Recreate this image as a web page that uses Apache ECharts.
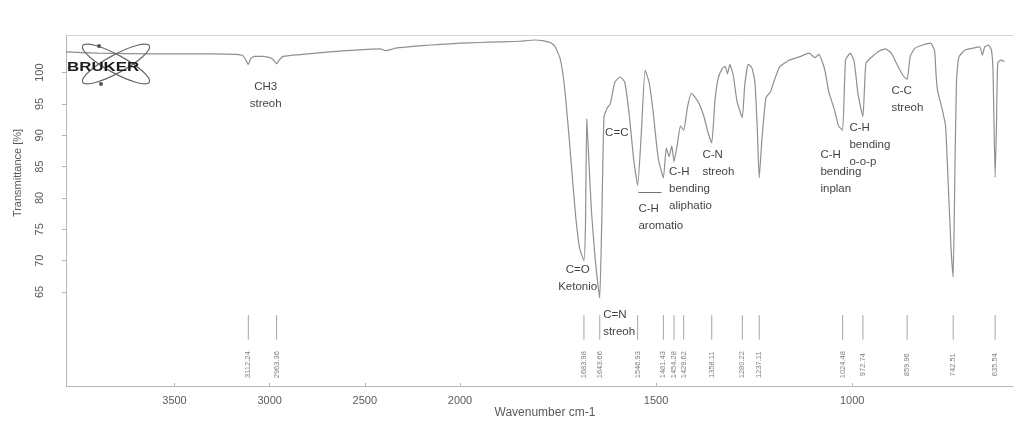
<!DOCTYPE html>
<html>
<head>
<meta charset="utf-8">
<script src="https://cdn.jsdelivr.net/npm/echarts@6/dist/echarts.min.js"></script>
<style>
  html, body { margin: 0; padding: 0; background: #ffffff; }
  #chart { width: 1020px; height: 421px; }
</style>
</head>
<body>
<div id="chart"></div>
<script>
// IR spectrum, 4070–2000 cm-1 (compressed scale)
const highWavenumber = [4070, 3900, 3600, 3300, 3180, 3140, 3125, 3112.24, 3100, 3080, 3030, 2990, 2975, 2963.36, 2950, 2930, 2800, 2600, 2420, 2390, 2360, 2340, 2200, 2100, 2000];
const highTransmittance = [103.3, 103.1, 103.0, 103.0, 102.9, 102.7, 102.0, 101.3, 102.2, 102.6, 102.6, 102.3, 101.8, 101.4, 102.0, 102.6, 103.0, 103.5, 103.8, 103.5, 103.7, 103.9, 104.3, 104.5, 104.7];

// IR spectrum, 2000–590 cm-1 (expanded scale)
const lowWavenumber = [
  2000, 1950, 1900, 1850, 1810, 1790, 1770, 1758, 1745, 1735, 1725, 1715, 1705, 1695,
  1683.98, 1680, 1677, 1673, 1665, 1655, 1648, 1643.66, 1638, 1633, 1625, 1617, 1605,
  1592, 1580, 1568, 1557, 1546.93, 1538, 1528, 1518, 1508, 1495, 1481.43, 1474, 1467,
  1460, 1454.28, 1446, 1438, 1429.62, 1420, 1410, 1400, 1390, 1378, 1368, 1358.11,
  1350, 1342, 1332, 1324, 1318, 1312, 1303, 1294, 1280.22, 1274, 1265, 1256, 1248,
  1242, 1237.11, 1230, 1220, 1208, 1200, 1185, 1160, 1135, 1110, 1095, 1085, 1070,
  1060, 1045, 1035, 1024.48, 1017, 1005, 995, 985, 972.74, 965, 950, 930, 915, 900,
  885, 870, 859.96, 852, 840, 820, 800, 790, 786, 782, 776, 770, 762, 755, 748,
  742.51, 738, 734, 728, 712, 692, 675, 668, 662, 652, 645, 641, 635.54, 632, 629,
  622, 612
];
const lowTransmittance = [
  104.7, 104.8, 104.9, 105.0, 105.2, 105.1, 104.8, 104.2, 102.3, 98.5, 92.0, 84.5, 77.0, 72.0,
  70.0, 76.0, 92.6, 88.0, 78.0, 70.0, 66.0, 64.0, 78.0, 92.8, 94.3, 95.0, 98.5,
  99.3, 98.5, 93.0, 86.0, 82.0, 90.0, 100.4, 98.5, 94.0, 86.5, 83.2, 88.0, 86.6,
  88.3, 85.8, 88.5, 91.5, 90.8, 94.5, 96.7, 96.0, 95.0, 93.0, 90.5, 88.8,
  95.5, 99.0, 100.6, 101.0, 99.8, 101.3, 99.5, 95.5, 92.8, 98.0, 101.3, 100.8, 98.5,
  91.0, 83.2, 89.5, 96.0, 97.0, 98.5, 100.9, 102.0, 102.5, 103.1, 102.4, 102.9, 100.5,
  97.0, 94.0, 91.5, 90.8, 102.0, 103.1, 101.8, 96.5, 93.0, 101.5, 102.5, 103.5, 103.8, 103.1,
  101.2, 99.5, 98.9, 102.6, 103.9, 104.4, 104.7, 103.5, 99.5, 97.0, 95.5, 94.0, 91.5, 82.0, 72.0,
  67.4, 85.0, 98.8, 102.5, 103.6, 103.9, 104.1, 102.8, 104.1, 104.4, 103.6, 100.4, 83.3, 92.0, 101.5,
  102.0, 101.8
];

// Peak-picking results
const highPeaks = [3112.24, 2963.36];
const lowPeaks = [1683.98, 1643.66, 1546.93, 1481.43, 1454.28, 1429.62, 1358.11, 1280.22, 1237.11, 1024.48, 972.74, 859.96, 742.51, 635.54];

// Axis tick values
const highTicks = [2500, 3000, 3500];
const lowTicks = [1000, 1500, 2000];
const transmittanceTicks = [65, 70, 75, 80, 85, 90, 95, 100];

// Band assignments: text, anchored at [wavenumber, transmittance]
const highBands = [
  { text: 'CH3\nstreoh', at: [3021, 96.4], align: 'center' }
];
const lowBands = [
  { text: 'C=O\nKetonio', at: [1700, 67.2], align: 'center' },
  { text: 'C=N\nstreoh', at: [1635, 60.0], align: 'left' },
  { text: 'C=C', at: [1630, 90.4], align: 'left' },
  { text: '——\nC-H\naromatio', at: [1545, 78.3], align: 'left' },
  { text: 'C-H\nbending\naliphatio', at: [1467, 81.4], align: 'left' },
  { text: 'C-N\nstreoh', at: [1382, 85.6], align: 'left' },
  { text: 'C-H\nbending\ninplan', at: [1081, 84.1], align: 'left' },
  { text: 'C-H\nbending\no-o-p', at: [1007, 88.4], align: 'left' },
  { text: 'C-C\nstreoh', at: [900, 95.8], align: 'left' }
];

// Vertical placement of the peak markers (transmittance units)
const MARK_TOP = 61.3;
const MARK_BOTTOM = 57.4;
const MARK_TEXT = 53.4;

const SPECTRUM = '#8f8f8f';
const AXIS = '#b5b5b5';
const TICK_TEXT = '#5a5a5a';
const FONT = 'Liberation Sans, Arial, sans-serif';

function zip(xs, ys) { return xs.map((x, i) => [x, ys[i]]); }
const plain = v => String(v);

function peakMarker(params, api) {
  const v = api.value(0);
  const a = api.coord([v, MARK_TOP]);
  const b = api.coord([v, MARK_BOTTOM]);
  const c = api.coord([v, MARK_TEXT]);
  return {
    type: 'group',
    children: [
      { type: 'line', shape: { x1: a[0], y1: a[1], x2: b[0], y2: b[1] },
        style: { stroke: '#a3a3a3', lineWidth: 1 } },
      { type: 'text', x: c[0], y: c[1], rotation: Math.PI / 2,
        style: { text: v.toFixed(2), fill: '#7e7e7e', fontSize: 7.5, fontFamily: FONT,
                 align: 'center', verticalAlign: 'middle' } }
    ]
  };
}

function bandSeries(list, axisIndex) {
  return {
    type: 'scatter', xAxisIndex: axisIndex, yAxisIndex: axisIndex,
    symbolSize: 0, silent: true, z: 5,
    data: list.map(b => ({
      value: b.at,
      label: {
        show: true, position: 'inside', formatter: b.text, align: b.align,
        verticalAlign: 'middle', color: '#0e0e0e', fontSize: 11.5, lineHeight: 17,
        fontFamily: FONT
      }
    }))
  };
}

function xAxisBase(grid, min, max, ticks) {
  return {
    type: 'value', gridIndex: grid, inverse: true, min: min, max: max,
    axisLine: { show: true, lineStyle: { color: AXIS, width: 1 } },
    axisTick: { show: true, inside: true, length: 3, customValues: ticks, lineStyle: { color: AXIS } },
    axisLabel: { customValues: ticks, formatter: plain, color: TICK_TEXT, fontSize: 11,
                 fontFamily: FONT, margin: 9 },
    splitLine: { show: false }
  };
}

function topFrame(grid, min, max) {
  return {
    type: 'value', gridIndex: grid, position: 'top', inverse: true, min: min, max: max,
    axisLine: { show: true, lineStyle: { color: '#d4d4d4', width: 1 } },
    axisTick: { show: false }, axisLabel: { show: false }, splitLine: { show: false }
  };
}

const chart = echarts.init(document.getElementById('chart'), null, { renderer: 'canvas' });

chart.setOption({
  backgroundColor: '#ffffff',
  animation: false,
  grid: [
    { left: 66, top: 35, width: 394, height: 351 },
    { left: 460, top: 35, width: 553, height: 351 }
  ],
  xAxis: [
    xAxisBase(0, 2000, 4070, highTicks),
    xAxisBase(1, 590, 2000, lowTicks),
    topFrame(0, 2000, 4070),
    topFrame(1, 590, 2000)
  ],
  yAxis: [
    {
      type: 'value', gridIndex: 0, min: 50, max: 106,
      axisLine: { show: true, lineStyle: { color: AXIS, width: 1 } },
      axisTick: { show: true, length: 4, customValues: transmittanceTicks, lineStyle: { color: AXIS } },
      axisLabel: { customValues: transmittanceTicks, formatter: plain, rotate: 90, color: TICK_TEXT,
                   fontSize: 11, fontFamily: FONT, margin: 21 },
      splitLine: { show: false }
    },
    { type: 'value', gridIndex: 1, min: 50, max: 106, show: false }
  ],
  graphic: [
    // Bruker logo: two crossed orbits with electrons
    { type: 'ellipse', x: 116, y: 64, rotation: 0.5, shape: { cx: 0, cy: 0, rx: 38, ry: 9 },
      style: { fill: 'none', stroke: '#6a6a6a', lineWidth: 1.2 }, z: 10 },
    { type: 'ellipse', x: 116, y: 64, rotation: -0.5, shape: { cx: 0, cy: 0, rx: 38, ry: 9 },
      style: { fill: 'none', stroke: '#6a6a6a', lineWidth: 1.2 }, z: 10 },
    { type: 'circle', shape: { cx: 99, cy: 46, r: 2 }, style: { fill: '#555' }, z: 10 },
    { type: 'circle', shape: { cx: 101, cy: 84, r: 2 }, style: { fill: '#555' }, z: 10 },
    { type: 'text', x: 67, y: 67, scaleX: 1.3,
      style: { text: 'BRUKER', fill: '#1c1c1c', fontSize: 13, fontWeight: 'bold',
               fontFamily: FONT, verticalAlign: 'middle' }, z: 11 },
    // axis titles
    { type: 'text', x: 18, y: 173, rotation: Math.PI / 2,
      style: { text: 'Transmittance [%]', fill: TICK_TEXT, fontSize: 11, fontFamily: FONT,
               align: 'center', verticalAlign: 'middle' } },
    { type: 'text', x: 545, y: 413,
      style: { text: 'Wavenumber cm-1', fill: TICK_TEXT, fontSize: 12, fontFamily: FONT,
               align: 'center', verticalAlign: 'middle' } }
  ],
  series: [
    { type: 'line', xAxisIndex: 0, yAxisIndex: 0, data: zip(highWavenumber, highTransmittance),
      showSymbol: false, smooth: 0.15, lineStyle: { color: SPECTRUM, width: 1.2 }, clip: false },
    { type: 'line', xAxisIndex: 1, yAxisIndex: 1, data: zip(lowWavenumber, lowTransmittance),
      showSymbol: false, smooth: 0.15, lineStyle: { color: SPECTRUM, width: 1.2 }, clip: false },
    { type: 'custom', xAxisIndex: 0, yAxisIndex: 0, renderItem: peakMarker,
      data: highPeaks.map(v => [v]), encode: { x: 0 }, silent: true },
    { type: 'custom', xAxisIndex: 1, yAxisIndex: 1, renderItem: peakMarker,
      data: lowPeaks.map(v => [v]), encode: { x: 0 }, silent: true },
    bandSeries(highBands, 0),
    bandSeries(lowBands, 1)
  ]
});
</script>
</body>
</html>
